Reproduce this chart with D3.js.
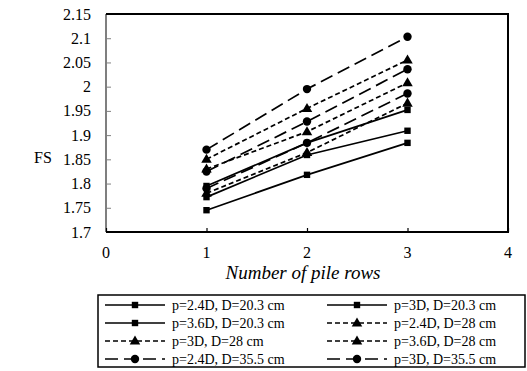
<!DOCTYPE html>
<html>
<head>
<meta charset="utf-8">
<script src="https://cdn.jsdelivr.net/npm/d3@7"></script>
<style>
  html, body { margin: 0; padding: 0; background: #fff; }
  svg { display: block; font-family: "Liberation Serif", "Times New Roman", serif; }
</style>
</head>
<body>
<svg id="chart" width="527" height="371"></svg>
<script>
// Number of pile rows on the x axis
const rows = [1, 2, 3];
const xTicks = [0, 1, 2, 3, 4];
const yTicks = [1.7, 1.75, 1.8, 1.85, 1.9, 1.95, 2, 2.05, 2.1, 2.15];

// Factor of safety per pile spacing / diameter combination
const seriesNames = [
  "p=2.4D, D=20.3 cm", "p=3D, D=20.3 cm", "p=3.6D, D=20.3 cm",
  "p=2.4D, D=28 cm", "p=3D, D=28 cm", "p=3.6D, D=28 cm",
  "p=2.4D, D=35.5 cm", "p=3D, D=35.5 cm", "p=3.6D, D=35.5 cm"
];
const fs_24_203 = [1.795, 1.884, 1.952];
const fs_30_203 = [1.772, 1.859, 1.909];
const fs_36_203 = [1.745, 1.818, 1.884];
const fs_24_28  = [1.850, 1.955, 2.055];
const fs_30_28  = [1.830, 1.907, 2.008];
const fs_36_28  = [1.780, 1.864, 1.966];
const fs_24_355 = [1.870, 1.995, 2.103];
const fs_30_355 = [1.825, 1.928, 2.036];
const fs_36_355 = [1.790, 1.884, 1.986];
const seriesValues = [fs_24_203, fs_30_203, fs_36_203, fs_24_28, fs_30_28, fs_36_28, fs_24_355, fs_30_355, fs_36_355];
const seriesMarkers = ["square", "square", "square", "triangle", "triangle", "triangle", "circle", "circle", "circle"];

const dashFor = { square: null, triangle: "5,3", circle: "13,6" };

const svg = d3.select("#chart");
const plot = { left: 106, right: 508, top: 14, bottom: 232 };

const x = d3.scaleLinear().domain([0, 4]).range([plot.left, plot.right]);
const y = d3.scaleLinear().domain([1.7, 2.15]).range([plot.bottom, plot.top]);

// Y axis (grey, inward ticks)
const yAxis = svg.append("g")
  .attr("transform", `translate(${plot.left},0)`)
  .call(d3.axisRight(y).tickValues(yTicks).tickSize(5).tickFormat(""));
yAxis.select(".domain").remove();
yAxis.selectAll("line").attr("stroke", "#808080").attr("stroke-width", 1);
svg.append("line")
  .attr("x1", plot.left).attr("x2", plot.left)
  .attr("y1", plot.top).attr("y2", plot.bottom)
  .attr("stroke", "#7f7f7f").attr("stroke-width", 2);

svg.append("g").selectAll("text").data(yTicks).join("text")
  .attr("x", 91).attr("y", d => y(d))
  .attr("dy", "0.35em")
  .attr("text-anchor", "end")
  .attr("font-size", 16)
  .text(d => d3.format("")(d));

// X axis (inward ticks)
const xAxis = svg.append("g")
  .attr("transform", `translate(0,${plot.bottom})`)
  .call(d3.axisTop(x).tickValues(xTicks).tickSize(4).tickFormat(""));
xAxis.select(".domain").remove();
xAxis.selectAll("line").attr("stroke", "#000").attr("stroke-width", 1.2);

svg.append("g").selectAll("text").data(xTicks).join("text")
  .attr("x", d => x(d)).attr("y", 258)
  .attr("text-anchor", "middle")
  .attr("font-size", 16)
  .text(d => d);

// Frame: top, right, bottom in black
svg.append("path")
  .attr("d", `M${plot.left},${plot.top}H${plot.right}V${plot.bottom}H${plot.left}`)
  .attr("fill", "none").attr("stroke", "#000").attr("stroke-width", 2);

// Axis titles
svg.append("text")
  .attr("x", 43).attr("y", 163)
  .attr("text-anchor", "middle")
  .attr("font-size", 16)
  .text("FS");
svg.append("text")
  .attr("x", 303).attr("y", 279)
  .attr("text-anchor", "middle")
  .attr("font-size", 19)
  .attr("font-style", "italic")
  .text("Number of pile rows");

// Marker drawing
function drawMarker(g, type, cx, cy) {
  if (type === "square") {
    g.append("rect").attr("x", cx - 3.2).attr("y", cy - 3.2)
      .attr("width", 6.4).attr("height", 6.4).attr("fill", "#000");
  } else if (type === "triangle") {
    g.append("path")
      .attr("d", d3.symbol(d3.symbolTriangle, 48)())
      .attr("transform", `translate(${cx},${cy + 0.5})`)
      .attr("fill", "#000");
  } else {
    g.append("circle").attr("cx", cx).attr("cy", cy).attr("r", 4.2).attr("fill", "#000");
  }
}

const line = d3.line().x((d, i) => x(rows[i])).y(d => y(d));

// Series lines with their markers
const seriesG = svg.append("g");
seriesValues.forEach((vals, s) => {
  const g = seriesG.append("g");
  g.append("path")
    .attr("d", line(vals))
    .attr("fill", "none")
    .attr("stroke", "#000")
    .attr("stroke-width", 1.7)
    .attr("stroke-dasharray", dashFor[seriesMarkers[s]]);
  vals.forEach((v, i) => drawMarker(g, seriesMarkers[s], x(rows[i]), y(v)));
});

// Legend: two columns, as many rows as fit in the box
const legendBox = { left: 98, right: 525, top: 295, bottom: 367 };
const colX = [135, 357];
const rowY0 = 305, rowStep = 18;
const legendRows = Math.floor((legendBox.bottom - rowY0) / rowStep) + 1;
const legendItems = seriesNames.slice(0, legendRows * 2);

const legend = svg.append("g");
legendItems.forEach((name, s) => {
  const col = s % 2, row = Math.floor(s / 2);
  const cx = colX[col], cy = rowY0 + row * rowStep;
  const g = legend.append("g");
  g.append("line")
    .attr("x1", cx - 30).attr("x2", cx + 30)
    .attr("y1", cy).attr("y2", cy)
    .attr("stroke", "#000").attr("stroke-width", 1.7)
    .attr("stroke-dasharray", dashFor[seriesMarkers[s]]);
  drawMarker(g, seriesMarkers[s], cx, cy);
  g.append("text")
    .attr("x", cx + 37).attr("y", cy).attr("dy", "0.35em")
    .attr("font-size", 14)
    .text(name);
});
svg.append("rect")
  .attr("x", legendBox.left).attr("y", legendBox.top)
  .attr("width", legendBox.right - legendBox.left)
  .attr("height", legendBox.bottom - legendBox.top)
  .attr("fill", "none").attr("stroke", "#000").attr("stroke-width", 1.5);
</script>
</body>
</html>
